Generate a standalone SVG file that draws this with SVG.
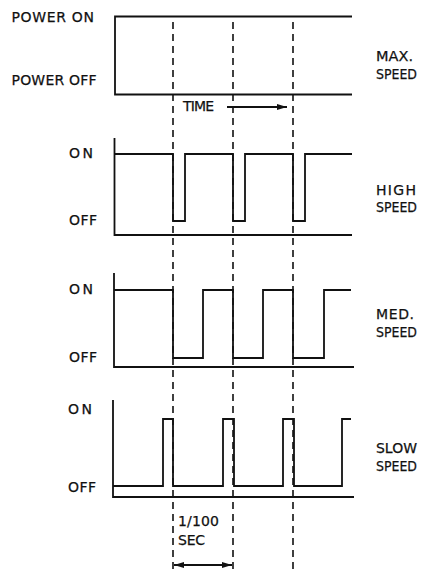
<svg xmlns="http://www.w3.org/2000/svg" width="421" height="571" viewBox="0 0 421 571">
<style>
  .ln{fill:none;stroke:#111;stroke-width:1.8;stroke-linejoin:miter;stroke-linecap:butt}
  .ds{fill:none;stroke:#111;stroke-width:1.6;stroke-dasharray:7 5}
  .t{font-family:"DejaVu Sans","Liberation Sans",sans-serif;font-size:14px;fill:#111;stroke:#111;stroke-width:0.25}
</style>
<defs>
  <marker id="ah" viewBox="0 0 10 6" refX="10" refY="3" markerWidth="10" markerHeight="6" markerUnits="userSpaceOnUse" orient="auto-start-reverse">
    <path d="M0,0 L10,3 L0,6 Z" fill="#111"/>
  </marker>
</defs>
<rect width="421" height="571" fill="#fff"/>

<g id="guides">
  <line class="ds" x1="173" y1="22" x2="173" y2="571"/>
  <line class="ds" x1="233" y1="22" x2="233" y2="571"/>
  <line class="ds" x1="293" y1="22" x2="293" y2="571"/>
</g>

<g id="max-speed">
  <path class="ln" d="M352,16.5 H115 V94.5 H352"/>
  <text class="t" x="11.5" y="22" textLength="82.5" lengthAdjust="spacing">POWER ON</text>
  <text class="t" x="11.5" y="85" textLength="85" lengthAdjust="spacing">POWER OFF</text>
  <text class="t" x="376" y="61" textLength="37" lengthAdjust="spacingAndGlyphs">MAX.</text>
  <text class="t" x="376" y="79" textLength="41" lengthAdjust="spacingAndGlyphs">SPEED</text>
</g>

<g id="time-label">
  <text class="t" x="183" y="111" textLength="31" lengthAdjust="spacing">TIME</text>
</g>

<g id="high-speed">
  <path class="ln" d="M114.5,138 V235 H352"/>
  <path class="ln" d="M114.5,154 H173 V221 H185 V154 H233 V221 H245 V154 H293 V221 H305 V154 H352"/>
  <text class="t" x="69" y="157.5" textLength="24" lengthAdjust="spacing">ON</text>
  <text class="t" x="69" y="225" textLength="28" lengthAdjust="spacing">OFF</text>
  <text class="t" x="376" y="194.5" textLength="40" lengthAdjust="spacing">HIGH</text>
  <text class="t" x="376" y="212" textLength="41" lengthAdjust="spacingAndGlyphs">SPEED</text>
</g>

<g id="med-speed">
  <path class="ln" d="M114,273 V367 H354"/>
  <path class="ln" d="M114,290 H173 V358 H203 V290 H233 V358 H263 V290 H293 V358 H324 V290 H351"/>
  <text class="t" x="69" y="294" textLength="24" lengthAdjust="spacing">ON</text>
  <text class="t" x="69" y="362" textLength="28" lengthAdjust="spacing">OFF</text>
  <text class="t" x="376" y="319" textLength="38" lengthAdjust="spacing">MED.</text>
  <text class="t" x="376" y="337" textLength="41" lengthAdjust="spacingAndGlyphs">SPEED</text>
</g>

<g id="slow-speed">
  <path class="ln" d="M113,400 V497 H354"/>
  <path class="ln" d="M113,486 H163 V419 H173 V486 H223 V419 H234 V486 H283 V419 H294 V486 H342 V419 H351"/>
  <text class="t" x="68" y="414" textLength="24" lengthAdjust="spacing">ON</text>
  <text class="t" x="68" y="492" textLength="28" lengthAdjust="spacing">OFF</text>
  <text class="t" x="376" y="453" textLength="41" lengthAdjust="spacingAndGlyphs">SLOW</text>
  <text class="t" x="376" y="471" textLength="41" lengthAdjust="spacingAndGlyphs">SPEED</text>
  <text class="t" x="178" y="526" textLength="41" lengthAdjust="spacing">1/100</text>
  <text class="t" x="178" y="545" textLength="27" lengthAdjust="spacing">SEC</text>
</g>

<g id="connectors">
  <line class="ln" x1="227" y1="107" x2="287" y2="107" marker-end="url(#ah)"/>
  <line class="ln" x1="174" y1="565" x2="232" y2="565" marker-start="url(#ah)" marker-end="url(#ah)"/>
</g>
</svg>
